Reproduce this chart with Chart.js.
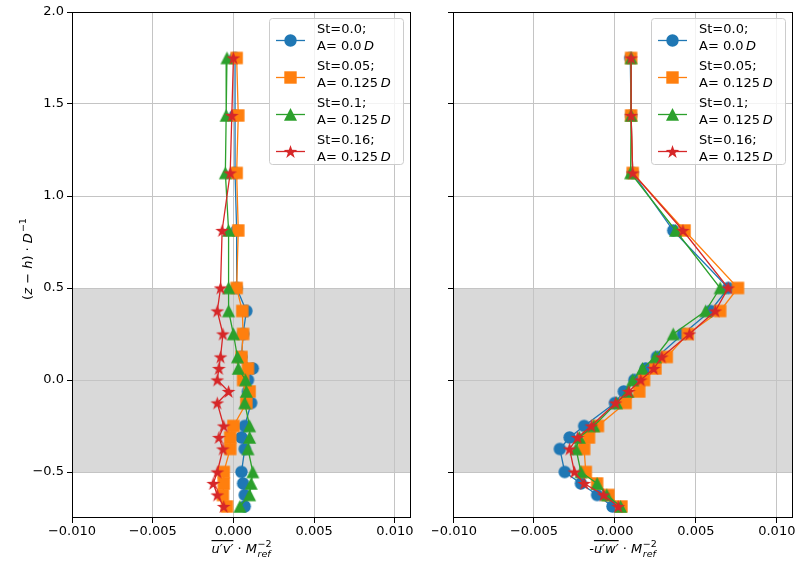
<!DOCTYPE html>
<html><head><meta charset="utf-8">
<script src="https://cdn.jsdelivr.net/npm/chart.js@4.4.0/dist/chart.umd.min.js"></script>
<style>
html,body{margin:0;padding:0;background:#fff;}
#wrap{position:relative;width:795px;height:566px;overflow:hidden;}
canvas{position:absolute;top:0;}
#c1{left:0;} #c2{left:432px;}
</style></head><body>
<div id="wrap"><canvas id="c1" width="432" height="566"></canvas><canvas id="c2" width="363" height="566"></canvas></div>
<script>
// ---------- data ----------
const zLevels = [1.75, 1.4375, 1.125, 0.8125, 0.5, 0.375, 0.25, 0.125, 0.0625, 0, -0.0625, -0.125, -0.25, -0.3125, -0.375, -0.5, -0.5625, -0.625, -0.6875];

const uvSt000 = [0.0001, 0.0001, 0.0001, 0.0002, 0.0002, 0.0008, 0.0006, 0.0005, 0.0012, 0.0009, 0.0009, 0.0011, 0.0007, 0.0005, 0.0007, 0.0005, 0.0006, 0.0007, 0.0007];
const uvSt005 = [0.0002, 0.0003, 0.0002, 0.0003, 0.0002, 0.00055, 0.0006, 0.0005, 0.0009, 0.0006, 0.001, 0.0008, 0.0, -0.0002, -0.0002, -0.0006, -0.0006, -0.00065, -0.0004];
const uvSt010 = [-0.0004, -0.00045, -0.0005, -0.0003, -0.0003, -0.0003, 0.0, 0.00025, 0.0003, 0.00075, 0.0008, 0.0007, 0.001, 0.001, 0.0009, 0.0012, 0.0011, 0.001, 0.0004];
const uvSt016 = [0.0, -0.0001, -0.0002, -0.0007, -0.0008, -0.001, -0.00065, -0.0008, -0.0009, -0.001, -0.0003, -0.001, -0.0006, -0.0009, -0.00065, -0.001, -0.00125, -0.001, -0.0006];

const uwSt000 = [0.00095, 0.001, 0.0011, 0.0036, 0.007, 0.0059, 0.0042, 0.0026, 0.0019, 0.0012, 0.00055, 0.0, -0.0019, -0.0028, -0.0034, -0.0031, -0.0021, -0.0011, -0.00015];
const uwSt005 = [0.001, 0.001, 0.0011, 0.0043, 0.0076, 0.0065, 0.0045, 0.0032, 0.0025, 0.0018, 0.0015, 0.00066, -0.00105, -0.0016, -0.0019, -0.0018, -0.0011, -0.0004, 0.0004];
const uwSt010 = [0.001, 0.001, 0.00097, 0.00375, 0.0065, 0.0056, 0.0036, 0.0025, 0.0017, 0.0011, 0.0008, 0.0001, -0.0013, -0.0022, -0.0024, -0.0021, -0.0011, -0.0005, 0.00035];
const uwSt016 = [0.001, 0.001, 0.0011, 0.0042, 0.007, 0.0062, 0.0046, 0.0029, 0.0024, 0.0016, 0.00086, 0.00004, -0.00146, -0.0023, -0.0028, -0.0025, -0.0019, -0.0007, 0.0002];

const seriesLine1 = ["St=0.0;", "St=0.05;", "St=0.1;", "St=0.16;"];
const seriesLine2 = ["A= 0.0", "A= 0.125", "A= 0.125", "A= 0.125"];
const xTicks = [-0.010, -0.005, 0.000, 0.005, 0.010];
const yTicks = [-0.5, 0.0, 0.5, 1.0, 1.5, 2.0];
const bandRange = [-0.5, 0.5];

// ---------- styles ----------
const seriesColors = ['#1f77b4', '#ff7f0e', '#2ca02c', '#d62728'];
const markerShapes = ['circle', 'square', 'triangle', 'star'];
const FONT = '"DejaVu Sans", "Liberation Sans", sans-serif';
function font(size, it) { return (it ? 'italic ' : '') + size + 'px ' + FONT; }
function fmt(v, d) { return (Math.abs(v) < 1e-12 ? 0 : v).toFixed(d).replace('-', '\u2212'); }

function makeMarker(shape, color) {
  const s = 17, c = document.createElement('canvas');
  c.width = s; c.height = s;
  const g = c.getContext('2d'); g.fillStyle = color; g.beginPath();
  const m = s / 2;
  if (shape === 'circle') g.arc(m, m, 6.2, 0, 2 * Math.PI);
  else if (shape === 'square') g.rect(m - 6.2, m - 6.2, 12.4, 12.4);
  else if (shape === 'triangle') { g.moveTo(m, m - 6.4); g.lineTo(m + 6.5, m + 6.2); g.lineTo(m - 6.5, m + 6.2); g.closePath(); }
  else {
    for (let k = 0; k < 10; k++) {
      const r = k % 2 ? 7.2 * 0.382 : 7.2;
      const a = -Math.PI / 2 + k * Math.PI / 5;
      const px = m + r * Math.cos(a), py = m + 0.6 + r * Math.sin(a);
      k ? g.lineTo(px, py) : g.moveTo(px, py);
    }
    g.closePath();
  }
  g.fill();
  return c;
}
const markerImgs = markerShapes.map((s, i) => makeMarker(s, seriesColors[i]));

function drawRuns(ctx, runs, cx, baseY) {
  const items = runs.map(r => {
    if (r.stack) {
      ctx.font = font(9.5, true); const w1 = ctx.measureText(r.sub).width;
      ctx.font = font(9.5, false); const w2 = ctx.measureText(r.sup).width;
      return { r, w: Math.max(w1, w2) };
    }
    ctx.font = font(r.size || 13, r.it);
    return { r, w: ctx.measureText(r.t).width + (r.gap || 0) };
  });
  const total = items.reduce((a, b) => a + b.w, 0);
  let x = cx - total / 2;
  ctx.textBaseline = 'alphabetic'; ctx.textAlign = 'left'; ctx.fillStyle = '#000';
  for (const it of items) {
    const r = it.r;
    if (r.stack) {
      ctx.font = font(9.5, false); ctx.fillText(r.sup, x, baseY - 6.5);
      ctx.font = font(9.5, true); ctx.fillText(r.sub, x, baseY + 4);
    } else {
      ctx.font = font(r.size || 13, r.it);
      ctx.fillText(r.t, x, baseY);
      if (r.ol) ctx.fillRect(x, baseY - 13, it.w, 1.2);
    }
    x += it.w;
  }
}

function drawLegend(ctx, right, top) {
  const w = 134, h = 146, L = right - w;
  ctx.save();
  ctx.beginPath();
  if (ctx.roundRect) ctx.roundRect(L + 0.5, top + 0.5, w, h, 3); else ctx.rect(L + 0.5, top + 0.5, w, h);
  ctx.fillStyle = 'rgba(255,255,255,0.8)'; ctx.fill();
  ctx.strokeStyle = '#cccccc'; ctx.lineWidth = 1; ctx.stroke();
  for (let i = 0; i < 4; i++) {
    const y1 = top + 12 + i * 37, y2 = y1 + 16.5, ym = y1 + 10.5;
    ctx.strokeStyle = seriesColors[i]; ctx.lineWidth = 1.3;
    ctx.beginPath(); ctx.moveTo(L + 7, ym); ctx.lineTo(L + 36, ym); ctx.stroke();
    const img = markerImgs[i];
    ctx.drawImage(img, L + 21.5 - img.width / 2, ym - img.height / 2);
    ctx.fillStyle = '#000'; ctx.textBaseline = 'middle'; ctx.textAlign = 'left';
    ctx.font = font(13, false);
    ctx.fillText(seriesLine1[i], L + 48, y1);
    ctx.fillText(seriesLine2[i], L + 48, y2);
    const ww = ctx.measureText(seriesLine2[i]).width;
    ctx.font = font(13, true);
    ctx.fillText('D', L + 48 + ww + 2.5, y2);
  }
  ctx.restore();
}

function decoPlugin(isLeft, xRuns) {
  return {
    id: 'deco',
    beforeDraw(chart) {
      const { ctx, chartArea: a } = chart;
      const y = chart.scales.y;
      const yT = y.getPixelForValue(bandRange[1]), yB = y.getPixelForValue(bandRange[0]);
      ctx.save(); ctx.fillStyle = '#d9d9d9';
      ctx.fillRect(a.left, yT, a.right - a.left, yB - yT); ctx.restore();
    },
    afterDraw(chart) {
      const { ctx, chartArea: a } = chart;
      ctx.save();
      ctx.strokeStyle = '#000'; ctx.lineWidth = 1;
      ctx.strokeRect(Math.round(a.left) + 0.5, Math.round(a.top) + 0.5, Math.round(a.right - a.left) - 1, Math.round(a.bottom - a.top) - 1);
      drawLegend(ctx, a.right - 8, a.top + 6);
      drawRuns(ctx, xRuns, (a.left + a.right) / 2, 553);
      if (isLeft) {
        ctx.translate(27, (a.top + a.bottom) / 2 - 6);
        ctx.rotate(-Math.PI / 2);
        drawRuns(ctx, [
          { t: '(' }, { t: 'z', it: true }, { t: ' \u2212 ' }, { t: 'h', it: true }, { t: ')' },
          { t: ' \u00b7 ' }, { t: 'D', it: true, gap: 1 }, { stack: true, sup: '\u22121', sub: '' }
        ], 0, 5);
      }
      ctx.restore();
    }
  };
}

function buildChart(canvas, seriesValues, isLeft, xRuns, target) {
  const datasets = seriesValues.map((vals, i) => ({
    label: seriesLine1[i] + ' ' + seriesLine2[i] + ' D',
    data: vals.map((v, k) => ({ x: v, y: zLevels[k] })),
    showLine: true,
    borderColor: seriesColors[i],
    backgroundColor: seriesColors[i],
    borderWidth: 1.3,
    pointStyle: markerImgs[i],
    pointRadius: 6, pointHoverRadius: 6,
    order: 3 - i
  }));
  const tickFont = { family: FONT, size: 13 };
  return new Chart(canvas, {
    type: 'scatter',
    data: { datasets },
    options: {
      responsive: false, animation: false, devicePixelRatio: 1,
      layout: { autoPadding: false, padding: { left: 0, right: canvas.width - target.right, top: target.top, bottom: 0 } },
      plugins: { legend: { display: false }, tooltip: { enabled: false } },
      scales: {
        x: {
          type: 'linear', min: -0.010, max: 0.011,
          afterBuildTicks: s => { s.ticks = xTicks.map(v => ({ value: v })); },
          afterFit: s => { s.height = canvas.height - target.bottom; s.paddingLeft = 0; s.paddingRight = 0; },
          ticks: { callback: v => fmt(v, 3), font: tickFont, color: '#000', padding: 1, maxRotation: 0, autoSkip: false },
          grid: { color: '#c4c4c4', lineWidth: 1, tickColor: '#000', tickLength: 5, tickWidth: 1 },
          border: { display: false }
        },
        y: {
          type: 'linear', min: -0.75, max: 2.0,
          afterBuildTicks: s => { s.ticks = yTicks.map(v => ({ value: v })); },
          afterFit: s => { s.width = target.left; s.paddingTop = 0; s.paddingBottom = 0; },
          ticks: { display: isLeft, callback: v => fmt(v, 1), font: tickFont, color: '#000', padding: 3, autoSkip: false },
          grid: { color: '#c4c4c4', lineWidth: 1, tickColor: '#000', tickLength: 5, tickWidth: 1 },
          border: { display: false }
        }
      }
    },
    plugins: [decoPlugin(isLeft, xRuns)]
  });
}

buildChart(document.getElementById('c1'), [uvSt000, uvSt005, uvSt010, uvSt016], true, [
  { t: 'u\u2032v\u2032', it: true, ol: true }, { t: ' \u00b7 ' }, { t: 'M', it: true, gap: 0.5 }, { stack: true, sup: '\u22122', sub: 'ref' }
], { left: 72, right: 411, top: 12, bottom: 518 });
buildChart(document.getElementById('c2'), [uwSt000, uwSt005, uwSt010, uwSt016], false, [
  { t: '-' }, { t: 'u\u2032w\u2032', it: true, ol: true }, { t: ' \u00b7 ' }, { t: 'M', it: true, gap: 0.5 }, { stack: true, sup: '\u22122', sub: 'ref' }
], { left: 21, right: 361, top: 12, bottom: 518 });
</script>
</body></html>
